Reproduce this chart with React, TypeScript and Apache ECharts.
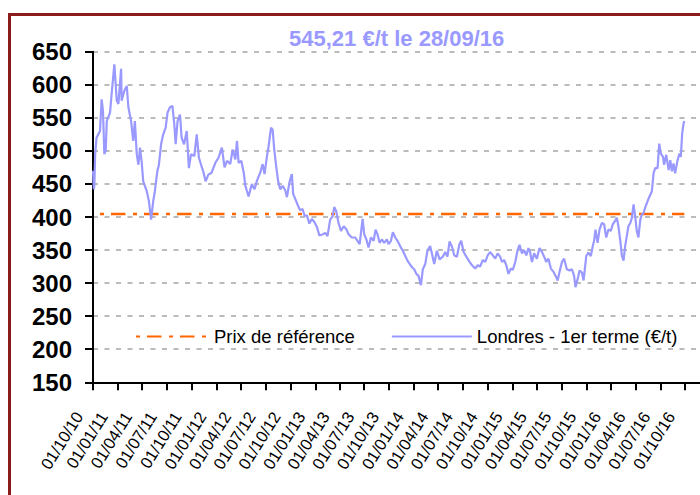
import React, { useEffect, useRef } from "react";
import * as echarts from "echarts";

const titleText = "545,21 €/t le 28/09/16";
const refName = "Prix de référence";
const londresName = "Londres - 1er terme (€/t)";

const dates = [
  "2010-10-01","2010-10-04","2010-10-06","2010-10-09","2010-10-14","2010-10-27","2010-11-02","2010-11-07","2010-11-12","2010-11-17",
  "2010-11-21","2010-12-03","2010-12-09","2010-12-19","2010-12-28","2011-01-03","2011-01-13","2011-01-15","2011-01-25","2011-02-03",
  "2011-02-09","2011-02-19","2011-02-27","2011-03-05","2011-03-12","2011-03-18","2011-03-24","2011-03-30","2011-04-05","2011-04-18",
  "2011-04-26","2011-05-04","2011-05-12","2011-05-18","2011-05-27","2011-06-02","2011-06-10","2011-06-18","2011-06-27","2011-07-04",
  "2011-07-13","2011-07-22","2011-07-29","2011-08-03","2011-08-10","2011-08-19","2011-08-25","2011-09-03","2011-09-13","2011-09-21",
  "2011-09-29","2011-10-11","2011-10-20","2011-10-28","2011-11-05","2011-11-13","2011-11-22","2011-12-02","2011-12-14","2011-12-28",
  "2012-01-09","2012-01-21","2012-01-31","2012-02-09","2012-02-21","2012-03-01","2012-03-11","2012-03-17","2012-03-23","2012-04-02",
  "2012-04-11","2012-04-17","2012-04-29","2012-05-11","2012-05-21","2012-05-30","2012-06-11","2012-06-20","2012-06-27","2012-07-06",
  "2012-07-12","2012-07-21","2012-07-27","2012-08-02","2012-08-09","2012-08-16","2012-08-24","2012-09-02","2012-09-12","2012-09-18",
  "2012-09-27","2012-10-06","2012-10-11","2012-10-19","2012-10-29","2012-11-06","2012-11-15","2012-11-22","2012-12-01","2012-12-10",
  "2012-12-19","2012-12-29","2013-01-07","2013-01-16","2013-01-29","2013-02-07","2013-02-15","2013-02-25","2013-03-06","2013-03-12",
  "2013-03-19","2013-03-28","2013-04-06","2013-04-16","2013-04-25","2013-05-04","2013-05-16","2013-05-29","2013-06-06","2013-06-14",
  "2013-06-19","2013-06-25","2013-07-01","2013-07-09","2013-07-17","2013-07-26","2013-08-05","2013-08-12","2013-08-19","2013-08-27",
  "2013-09-04","2013-09-13","2013-09-23","2013-09-29","2013-10-08","2013-10-15","2013-10-24","2013-11-01","2013-11-11","2013-11-21",
  "2013-11-30","2013-12-08","2013-12-16","2013-12-25","2014-01-02","2014-01-10","2014-01-18","2014-01-27","2014-02-03","2014-02-12",
  "2014-02-20","2014-03-02","2014-03-09","2014-03-17","2014-03-27","2014-04-06","2014-04-18","2014-04-27","2014-05-05","2014-05-13",
  "2014-05-22","2014-05-30","2014-06-09","2014-06-18","2014-06-25","2014-07-04","2014-07-14","2014-07-26","2014-08-04","2014-08-16",
  "2014-08-25","2014-09-03","2014-09-13","2014-09-22","2014-10-01","2014-10-10","2014-10-20","2014-10-29","2014-11-07","2014-11-16",
  "2014-11-23","2014-12-01","2014-12-09","2014-12-17","2014-12-26","2015-01-02","2015-01-11","2015-01-20","2015-01-27","2015-02-05",
  "2015-02-13","2015-02-21","2015-03-01","2015-03-07","2015-03-14","2015-03-22","2015-04-01","2015-04-11","2015-04-20","2015-04-28",
  "2015-05-06","2015-05-14","2015-05-23","2015-06-02","2015-06-12","2015-06-17","2015-06-24","2015-07-03","2015-07-11","2015-07-21",
  "2015-07-31","2015-08-09","2015-08-17","2015-08-22","2015-08-30","2015-09-06","2015-09-15","2015-09-21","2015-09-27","2015-10-01",
  "2015-10-09","2015-10-18","2015-10-25","2015-10-30","2015-11-04","2015-11-12","2015-11-19","2015-11-28","2015-12-06","2015-12-14",
  "2015-12-22","2015-12-31","2016-01-07","2016-01-16","2016-01-22","2016-01-28","2016-02-04","2016-02-10","2016-02-16","2016-02-22",
  "2016-02-28","2016-03-05","2016-03-12","2016-03-18","2016-03-24","2016-03-30","2016-04-05","2016-04-11","2016-04-18","2016-04-24",
  "2016-04-30","2016-05-06","2016-05-15","2016-05-22","2016-05-31","2016-06-06","2016-06-12","2016-06-21","2016-06-27","2016-07-03",
  "2016-07-11","2016-07-15","2016-07-23","2016-08-01","2016-08-07","2016-08-13","2016-08-19","2016-08-25","2016-09-03","2016-09-10",
  "2016-09-15","2016-09-20","2016-09-25","2016-09-28"
];

const londres = [
  470,442,448,495,520,530,578,560,495,500,
  545,558,586,631,576,571,624,576,591,598,
  566,545,515,545,495,479,505,484,454,439,
  424,396,424,439,469,479,510,525,535,558,
  566,568,540,510,545,555,520,510,530,474,
  495,492,525,490,479,469,454,464,467,482,
  490,505,475,485,480,502,487,515,482,485,
  467,447,431,450,442,455,467,480,465,492,
  507,535,532,502,477,455,442,447,440,430,
  452,465,435,427,417,410,412,402,402,390,
  397,392,385,372,374,376,371,396,401,415,
  409,391,379,386,382,374,369,369,364,359,
  376,397,374,366,354,369,364,381,374,361,
  366,361,366,359,364,377,369,364,356,349,
  341,334,329,324,321,314,311,297,321,329,
  349,356,344,329,349,336,340,347,340,363,
  355,342,340,358,364,347,340,332,327,322,
  327,325,335,332,342,347,342,337,345,340,
  332,335,327,314,322,320,332,350,358,345,
  350,342,353,347,332,345,337,353,347,340,
  332,337,322,317,309,304,317,332,337,321,
  319,321,311,294,306,319,316,304,326,341,
  346,341,356,364,381,361,381,391,389,369,
  381,379,389,394,399,386,364,341,334,356,
  371,386,391,399,419,401,379,369,396,404,
  406,414,424,431,439,466,474,474,511,496,
  491,479,494,471,486,469,481,466,486,496,
  491,526,541,545.21
];

const refDates = ["2010-10-01", "2016-09-28"];
const refPrice = [404.4, 404.4];

const quarterTicks = [
  "2010-10-01","2011-01-01","2011-04-01","2011-07-01","2011-10-01",
  "2012-01-01","2012-04-01","2012-07-01","2012-10-01",
  "2013-01-01","2013-04-01","2013-07-01","2013-10-01",
  "2014-01-01","2014-04-01","2014-07-01","2014-10-01",
  "2015-01-01","2015-04-01","2015-07-01","2015-10-01",
  "2016-01-01","2016-04-01","2016-07-01","2016-10-01"
];

const xMin = "2010-10-01";
const xMax = "2016-11-25";
const yMin = 150;
const yMax = 650;
const yStep = 50;

const FONT = '"Liberation Sans", Arial, sans-serif';

function toTs(s: string): number {
  const [y, m, d] = s.split("-").map(Number);
  return Date.UTC(y, m - 1, d);
}

function fmtDate(v: number): string {
  const d = new Date(v);
  const dd = String(d.getUTCDate()).padStart(2, "0");
  const mm = String(d.getUTCMonth() + 1).padStart(2, "0");
  const yy = String(d.getUTCFullYear() % 100).padStart(2, "0");
  return dd + "/" + mm + "/" + yy;
}

export default function App() {
  const ref = useRef<HTMLDivElement>(null);
  useEffect(() => {
    if (!ref.current) return;
    const chart = echarts.init(ref.current, null, { renderer: "svg" });
    const tickTs = quarterTicks.map(toTs);
    chart.setOption({
      animation: false,
      backgroundColor: "#ffffff",
      textStyle: { fontFamily: FONT },
      title: {
        text: titleText,
        left: 289,
        top: 27,
        padding: 0,
        textStyle: { color: "#9999FF", fontSize: 22, fontWeight: "bold", fontFamily: FONT },
      },
      graphic: [
        {
          type: "rect",
          silent: true,
          z: 100,
          shape: { x: 9.5, y: 14.5, width: 720, height: 520 },
          style: { fill: "none", stroke: "#8B1C1C", lineWidth: 3 },
        },
      ],
      legend: {
        left: 128,
        top: 327,
        padding: 0,
        itemWidth: 80,
        itemHeight: 18,
        itemGap: 36,
        itemStyle: { opacity: 0 },
        data: [refName, londresName],
        textStyle: { fontSize: 18.5, color: "#000", fontFamily: FONT },
      },
      grid: { left: 93, top: 51.7, right: 0, bottom: 112.7, outerBoundsMode: "none" },
      xAxis: {
        type: "value",
        min: toTs(xMin),
        max: toTs(xMax),
        splitLine: { show: false },
        axisLine: { show: true, lineStyle: { color: "#000", width: 2 } },
        axisTick: {
          show: true,
          customValues: tickTs,
          length: 8,
          lineStyle: { color: "#000", width: 2 },
        },
        axisLabel: {
          customValues: tickTs,
          rotate: 58,
          margin: 8,
          padding: [32, 27, 0, 0],
          fontSize: 16.5,
          color: "#000",
          fontFamily: FONT,
          formatter: (v: number) => fmtDate(v),
        },
      },
      yAxis: {
        type: "value",
        min: yMin,
        max: yMax,
        interval: yStep,
        axisLine: { show: true, lineStyle: { color: "#000", width: 2 } },
        axisTick: { show: true, length: 8, lineStyle: { color: "#000", width: 2 } },
        axisLabel: { fontSize: 24, fontWeight: "bold", color: "#000", margin: 21, fontFamily: FONT },
        splitLine: { show: true, lineStyle: { color: "#BBBBBB", width: 2, type: [5, 6.5] } },
      },
      series: [
        {
          name: refName,
          type: "line",
          symbol: "none",
          data: refDates.map((d, i) => [toTs(d), refPrice[i]]),
          lineStyle: { color: "#FF6600", width: 2.5, type: [14.5, 7.5, 4, 7], dashOffset: 15.3 },
          itemStyle: { color: "#FF6600" },
          z: 2,
        },
        {
          name: londresName,
          type: "line",
          symbol: "none",
          data: dates.map((d, i) => [toTs(d), londres[i]]),
          lineStyle: { color: "#9999FF", width: 2.2 },
          itemStyle: { color: "#9999FF" },
          z: 3,
        },
      ],
    });
    return () => chart.dispose();
  }, []);
  return (
    <div
      ref={ref}
      style={{ position: "fixed", left: 0, top: 0, width: 700, height: 495, background: "#fff" }}
    />
  );
}
